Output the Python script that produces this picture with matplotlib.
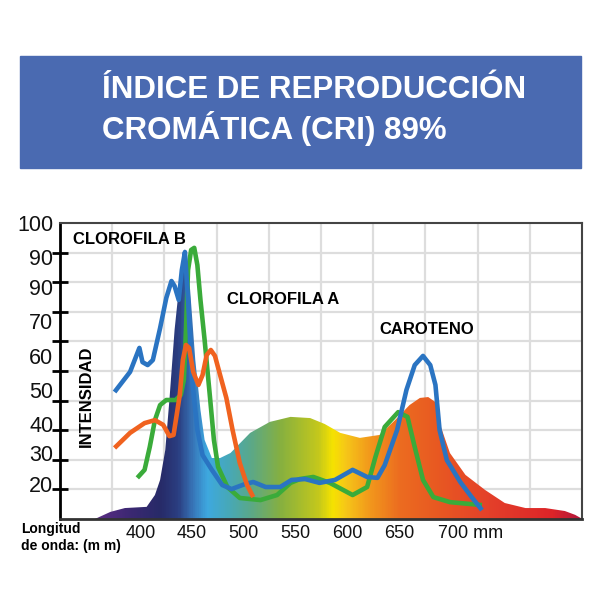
import matplotlib
matplotlib.use("Agg")
import matplotlib.pyplot as plt
import numpy as np
from matplotlib.colors import LinearSegmentedColormap
from matplotlib.patches import Rectangle
from matplotlib.transforms import blended_transform_factory, offset_copy

# ---- data (wavelength nm, intensity) ----
spectrum_nm = [356, 371, 385, 406, 414, 419, 424, 428, 433, 438, 443, 448, 453, 458,
               462, 469, 477, 487, 506, 525, 545, 564, 578, 593, 612, 631, 646, 660,
               670, 678, 685, 689, 699, 714, 733, 752, 772, 791, 810, 820, 827]
spectrum_val = [0, 2.4, 3.7, 4.1, 8.1, 13.2, 23.3, 40.2, 63.9, 80.7, 91.2, 77.4, 53.7, 36.8,
                26.7, 20.6, 20.6, 22.3, 29.1, 32.8, 34.5, 34.1, 32.1, 29.1, 27.4, 28.4, 33.4, 38.5,
                40.9, 41.2, 39.5, 32.4, 22.3, 14.9, 9.8, 5.4, 3.7, 3.7, 2.7, 1.4, 0]

blue_nm = [375, 390, 399, 402, 407, 412, 419, 425, 430, 433, 437, 440, 443, 446, 450, 455,
           460, 469, 479, 488, 501, 509, 521, 535, 546, 559, 573, 588, 605, 619, 629, 636,
           648, 657, 665, 673, 680, 685, 689, 696, 709, 720, 730]
blue_val = [42.9, 49.7, 57.8, 53.0, 52.0, 53.7, 64.5, 74.7, 80.4, 78.7, 74.0, 84.1, 90.2, 74.0,
            47.0, 30.1, 21.6, 16.6, 11.5, 10.1, 11.8, 12.5, 10.8, 10.8, 13.2, 13.5, 12.2, 13.2,
            16.6, 14.2, 13.9, 18.2, 30.1, 43.6, 52.0, 55.1, 52.0, 45.3, 30.1, 19.9, 12.5, 7.4, 3.0]

green_nm = [397, 404, 409, 414, 419, 425, 434, 439, 442, 444, 446, 449, 452, 455, 458, 462,
            467, 471, 475, 484, 496, 516, 532, 545, 554, 567, 583, 605, 619, 627, 636, 649,
            658, 665, 673, 683, 699, 730]
green_val = [13.9, 16.6, 24.3, 33.4, 38.5, 40.2, 40.2, 41.9, 47.0, 63.9, 84.1, 90.9, 91.6, 85.8,
             74.0, 60.5, 41.9, 26.7, 17.6, 10.8, 7.1, 6.4, 8.1, 12.2, 13.5, 14.2, 12.2, 8.1,
             10.8, 20.9, 31.1, 36.1, 34.5, 24.3, 13.2, 7.4, 5.7, 4.7]

orange_nm = [375, 390, 404, 414, 422, 428, 432, 435, 438, 441, 444, 447, 451, 456, 460, 464,
             468, 472, 477, 483, 489, 496, 503, 509]
orange_val = [24.0, 29.1, 32.4, 33.4, 31.8, 28.0, 28.4, 35.1, 41.9, 53.7, 58.8, 57.8, 49.7, 45.3,
              48.6, 55.4, 57.1, 55.1, 48.6, 40.9, 30.1, 18.9, 11.5, 7.4]

x_ticks = [400, 450, 500, 550, 600, 650]
x_labels = ["400", "450", "500", "550", "600", "650"]
y_labels = ["100", "90", "90", "70", "60", "50", "40", "30", "20"]
y_label_pos = [99, 87.8, 77.4, 65.9, 54.1, 42.9, 31.4, 21.3, 11.1]

# gradient stops along the spectrum (nm, colour)
grad_nm = [356, 390, 419, 436, 450, 464, 485, 506, 535, 572, 586, 598, 622, 651, 689, 738, 799, 827]
grad_col = ["#5b2d84", "#3b2872", "#272b68", "#2b3f82", "#3775b8", "#3ea8e0", "#47a9b8",
            "#5aa88a", "#86b040", "#c4c81c", "#f6e300", "#f6c818", "#f2981c", "#ec6c20",
            "#e85822", "#e4402a", "#dc2428", "#b4183c"]

plt.rcParams["font.family"] = ["Liberation Sans", "DejaVu Sans"]

fig = plt.figure(figsize=(6, 6), dpi=100)

# title banner
fig.patches.append(Rectangle((20 / 600, 1 - 168 / 600), 561 / 600, 112 / 600,
                             transform=fig.transFigure, color="#4a6ab1", zorder=0))
fig.text(102 / 600, 1 - 90 / 600, "ÍNDICE DE REPRODUCCIÓN", color="white",
         fontsize=22.5, fontweight="bold", va="center")
fig.text(102 / 600, 1 - 128 / 600, "CROMÁTICA (CRI) 89%", color="white",
         fontsize=22.5, fontweight="bold", va="center")

xmin, xmax = 322.3, 826.6
ax = fig.add_axes([60 / 600, 1 - 519 / 600, 522 / 600, 296 / 600])
ax.set_xlim(xmin, xmax)
ax.set_ylim(0, 100)

ax.set_xticks(np.linspace(xmin, xmax, 11)[1:-1])
ax.set_yticks(np.arange(10, 100, 10))
ax.tick_params(axis="x", length=0, labelbottom=False)
ax.tick_params(axis="y", direction="inout", length=11, width=2, color="black", labelleft=False)
ax.grid(True, color="#dddddd", lw=1.6, zorder=0)
ax.set_axisbelow(True)

for s in ["top", "right"]:
    ax.spines[s].set_color("#444444")
    ax.spines[s].set_linewidth(1.5)
ax.spines["bottom"].set_color("#333333")
ax.spines["bottom"].set_linewidth(2)
ax.spines["left"].set_color("black")
ax.spines["left"].set_linewidth(2)

# spectrum gradient fill
pos = [(w - xmin) / (xmax - xmin) for w in grad_nm]
stops = [(0, grad_col[0])] + list(zip(pos, grad_col))
stops[-1] = (1, grad_col[-1])
cmap = LinearSegmentedColormap.from_list("spec", stops)
poly = ax.fill(spectrum_nm, spectrum_val, facecolor="none", edgecolor="none")[0]
img = ax.imshow(np.linspace(0, 1, 600).reshape(1, -1), cmap=cmap, aspect="auto",
                extent=[xmin, xmax, 0, 100], zorder=2, interpolation="bilinear")
img.set_clip_path(poly)
ax.set_xlim(xmin, xmax)
ax.set_ylim(0, 100)

lw = 3.3
ax.plot(green_nm, green_val, color="#3aab3a", lw=lw, zorder=3, solid_capstyle="butt", solid_joinstyle="round")
ax.plot(blue_nm, blue_val, color="#2a74c2", lw=lw, zorder=4, solid_capstyle="butt", solid_joinstyle="round")
ax.plot(orange_nm, orange_val, color="#f0621f", lw=lw, zorder=5, solid_capstyle="butt", solid_joinstyle="round")

# y labels (placed as printed on the original)
ty = blended_transform_factory(ax.transAxes, ax.transData)
for lbl, p in zip(y_labels, y_label_pos):
    ax.text(-0.013, p, lbl, transform=ty, ha="right", va="center", fontsize=15.5, color="#111111")

# x labels
tx = blended_transform_factory(ax.transData, fig.transFigure)
for w, lbl in zip(x_ticks, x_labels):
    ax.text(w, 1 - 534 / 600, lbl, transform=tx, ha="center", va="center", fontsize=13, color="#111111")
ax.text(700, 1 - 534 / 600, "700 mm", transform=offset_copy(tx, fig=fig, x=-13, units="dots"),
        ha="left", va="center", fontsize=13, color="#111111")

fig.text(21 / 600, 1 - 529 / 600, "Longitud", fontsize=10, fontweight="bold", va="center")
fig.text(21 / 600, 1 - 546 / 600, "de onda: (m m)", fontsize=10, fontweight="bold", va="center")

# annotations
fig.text(73 / 600, 1 - 240 / 600, "CLOROFILA B", fontsize=12, fontweight="bold", va="center")
fig.text(227 / 600, 1 - 300 / 600, "CLOROFILA A", fontsize=12, fontweight="bold", va="center")
fig.text(379 / 600, 1 - 329 / 600, "CAROTENO", fontsize=12, fontweight="bold", va="center")
fig.text(86 / 600, 1 - 396 / 600, "INTENSIDAD", fontsize=12, fontweight="bold",
         rotation=90, ha="center", va="center")

fig.savefig("out.png", dpi=100)
